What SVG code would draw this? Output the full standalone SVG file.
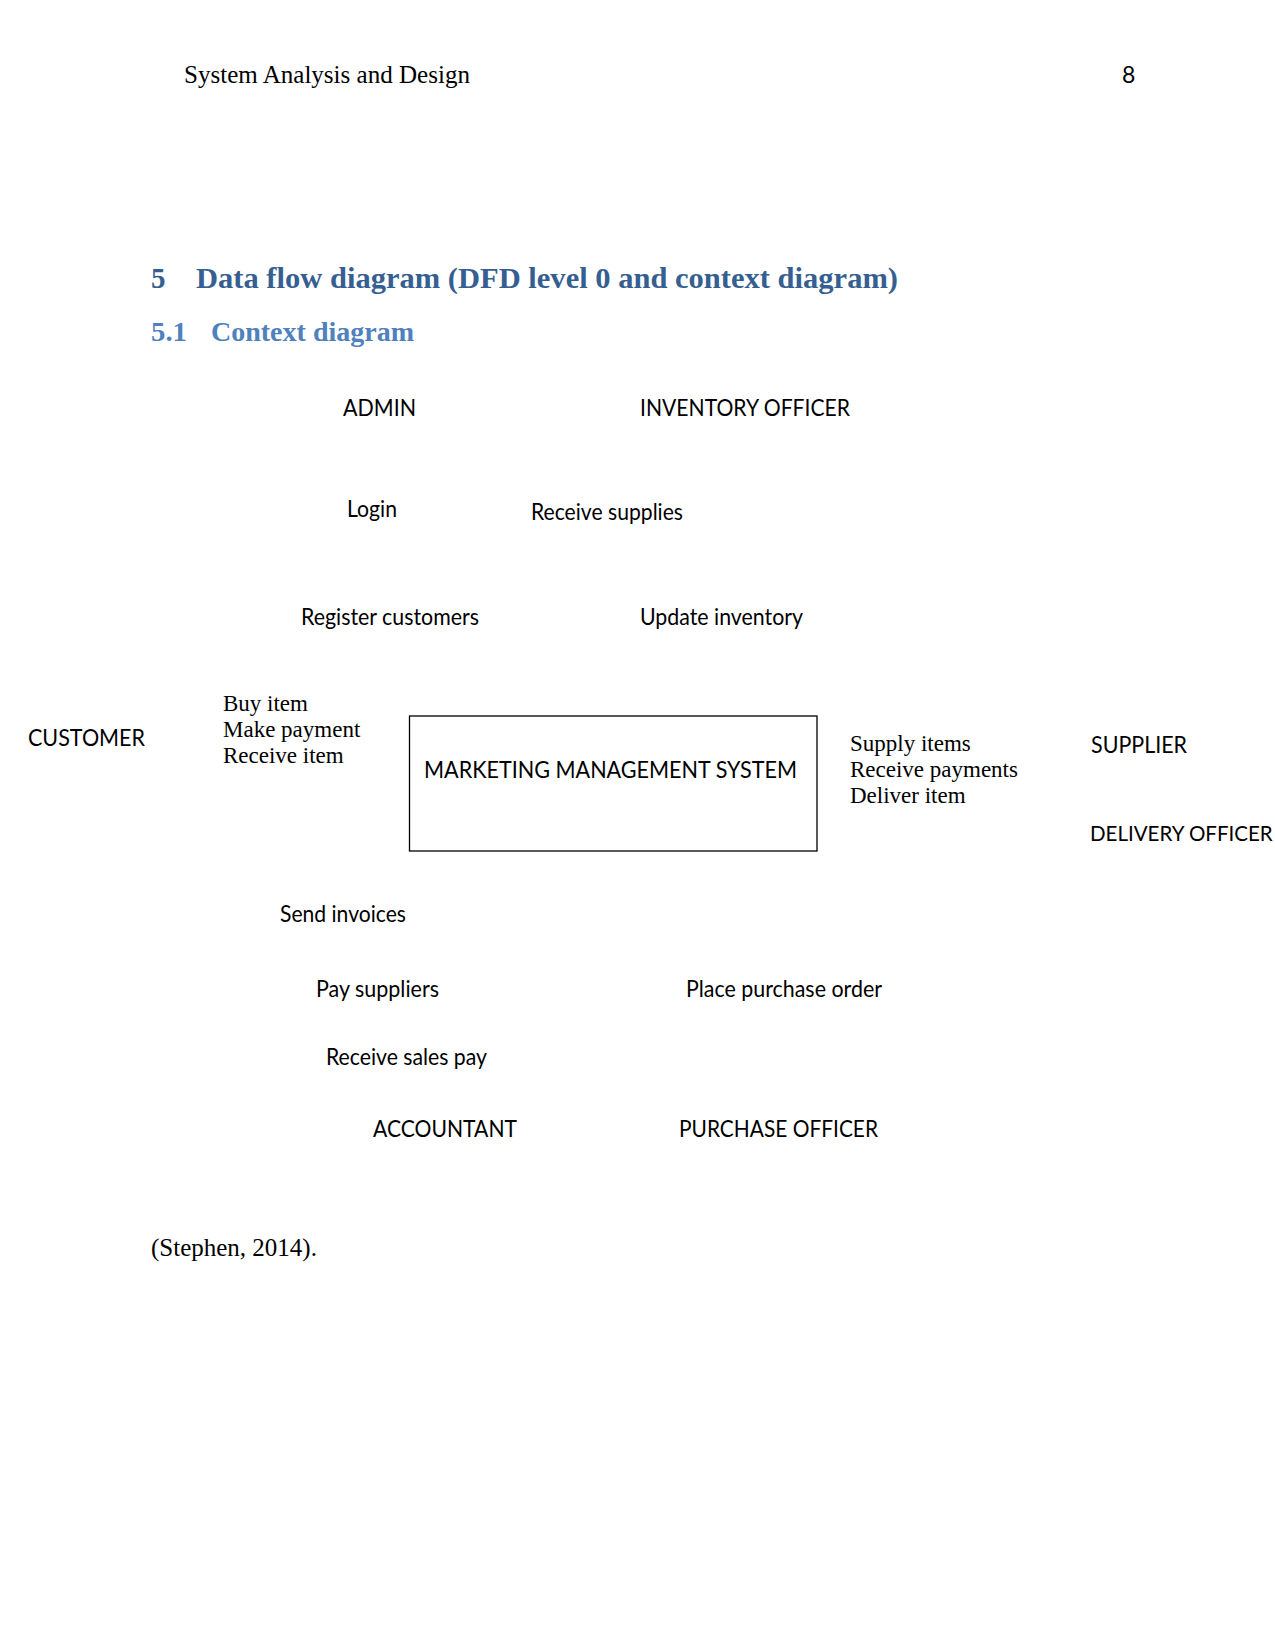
<svg xmlns="http://www.w3.org/2000/svg" width="1275" height="1651" viewBox="0 0 1275 1651">
<style>
.hdr{font-family:"Liberation Serif",serif;font-size:25px;fill:#000}
.pg{font-family:Lato,"Open Sans",sans-serif;font-size:23px;fill:#000}
.h1{font-family:"Liberation Serif",serif;font-weight:bold;font-size:29px;fill:#365F91}
.h2{font-family:"Liberation Serif",serif;font-weight:bold;font-size:27px;fill:#4F81BD}
.lbl{font-family:Lato,"Open Sans",sans-serif;font-size:23px;fill:#000}
.flow{font-family:"Liberation Serif",serif;font-size:23px;fill:#000}
.cite{font-family:"Liberation Serif",serif;font-size:25px;fill:#000}
.box{fill:#fff;stroke:#000;stroke-width:1.3}
</style>
<rect width="1275" height="1651" fill="#fff"/>
<g id="header">
<text class="hdr" x="184" y="83" textLength="286" lengthAdjust="spacingAndGlyphs">System Analysis and Design</text>
<text class="pg" x="1122" y="83">8</text>
</g>
<g id="headings">
<text class="h1" x="151" y="288">5</text>
<text class="h1" x="196" y="288" textLength="702" lengthAdjust="spacingAndGlyphs">Data flow diagram (DFD level 0 and context diagram)</text>
<text class="h2" x="151" y="341" textLength="36" lengthAdjust="spacingAndGlyphs">5.1</text>
<text class="h2" x="211" y="341" textLength="203" lengthAdjust="spacingAndGlyphs">Context diagram</text>
</g>
<g id="connectors"></g>
<g id="node-admin"><text class="lbl" x="343" y="416" textLength="73" lengthAdjust="spacingAndGlyphs">ADMIN</text></g>
<g id="node-inventory-officer"><text class="lbl" x="640" y="416" textLength="210" lengthAdjust="spacingAndGlyphs">INVENTORY OFFICER</text></g>
<g id="label-login"><text class="lbl" x="347" y="517" textLength="50" lengthAdjust="spacingAndGlyphs">Login</text></g>
<g id="label-receive-supplies"><text class="lbl" x="531" y="520" textLength="152" lengthAdjust="spacingAndGlyphs">Receive supplies</text></g>
<g id="label-register-customers"><text class="lbl" x="301" y="625" textLength="178" lengthAdjust="spacingAndGlyphs">Register customers</text></g>
<g id="label-update-inventory"><text class="lbl" x="640" y="625" textLength="163" lengthAdjust="spacingAndGlyphs">Update inventory</text></g>
<g id="node-customer"><text class="lbl" x="28" y="746" textLength="117" lengthAdjust="spacingAndGlyphs">CUSTOMER</text></g>
<g id="label-customer-flows">
<text class="flow" x="223" y="711">Buy item</text>
<text class="flow" x="223" y="737">Make payment</text>
<text class="flow" x="223" y="763">Receive item</text>
</g>
<g id="node-mms">
<rect class="box" x="409.5" y="716" width="407.5" height="135"/>
<text class="lbl" x="424" y="778" textLength="373" lengthAdjust="spacingAndGlyphs">MARKETING MANAGEMENT SYSTEM</text>
</g>
<g id="label-supplier-flows">
<text class="flow" x="850" y="751">Supply items</text>
<text class="flow" x="850" y="777">Receive payments</text>
<text class="flow" x="850" y="803">Deliver item</text>
</g>
<g id="node-supplier"><text class="lbl" x="1091" y="753" textLength="96" lengthAdjust="spacingAndGlyphs">SUPPLIER</text></g>
<g id="node-delivery-officer"><text class="lbl" x="1090" y="841" style="font-size:20.5px">DELIVERY OFFICER</text></g>
<g id="label-send-invoices"><text class="lbl" x="280" y="922" textLength="126" lengthAdjust="spacingAndGlyphs">Send invoices</text></g>
<g id="label-pay-suppliers"><text class="lbl" x="316" y="997" textLength="123" lengthAdjust="spacingAndGlyphs">Pay suppliers</text></g>
<g id="label-place-purchase-order"><text class="lbl" x="686" y="997" textLength="196" lengthAdjust="spacingAndGlyphs">Place purchase order</text></g>
<g id="label-receive-sales-pay"><text class="lbl" x="326" y="1065" textLength="161" lengthAdjust="spacingAndGlyphs">Receive sales pay</text></g>
<g id="node-accountant"><text class="lbl" x="373" y="1137" textLength="144" lengthAdjust="spacingAndGlyphs">ACCOUNTANT</text></g>
<g id="node-purchase-officer"><text class="lbl" x="679" y="1137" textLength="199" lengthAdjust="spacingAndGlyphs">PURCHASE OFFICER</text></g>
<g id="citation"><text class="cite" x="151" y="1256">(Stephen, 2014).</text></g>
</svg>
